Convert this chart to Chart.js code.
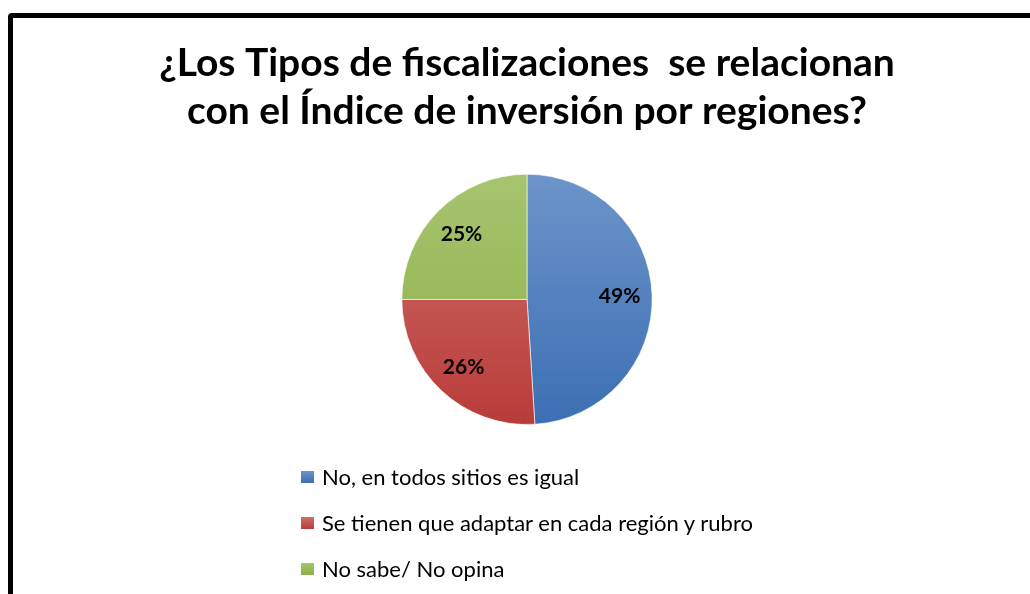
<!DOCTYPE html>
<html>
<head>
<meta charset="utf-8">
<script src="https://cdn.jsdelivr.net/npm/chart.js@4/dist/chart.umd.min.js"></script>
<style>
  html, body { margin: 0; padding: 0; background: #fff; overflow: hidden; }
  #wrap { position: relative; width: 1030px; height: 594px; overflow: hidden; }
  #frame { position: absolute; left: 8px; top: 13px; width: 1100px; height: 700px;
           border: 5px solid #000; border-radius: 4px; box-sizing: border-box; }
  #pie { position: absolute; left: 0; top: 0; }
  #legend { position: absolute; left: 301px; top: 465px; font-family: Lato, sans-serif;
            font-size: 22px; line-height: 24px; color: #000; }
  #legend div { height: 46px; display: flex; align-items: flex-start; }
  #legend span.box { display: inline-block; width: 13px; height: 12px; margin-top: 6px; margin-right: 8px; }
</style>
</head>
<body>
<div id="wrap">
  <div id="frame"></div>
  <canvas id="pie" width="1030" height="594"></canvas>
  <div id="legend"></div>
</div>
<script>
// data
const titleLines = ["¿Los Tipos de fiscalizaciones  se relacionan", "con el Índice de inversión por regiones?"];
const categories = ["No, en todos sitios es igual", "Se tienen que adaptar en cada región y rubro", "No sabe/ No opina"];
const percents = [49, 26, 25];

// colours (top of gradient, bottom of gradient)
const topColors = ["#6d94ca", "#cf6e6b", "#a7c46f"];
const bottomColors = ["#3b6fb3", "#b83c39", "#8caf46"];

function sliceFill(ctx) {
    const area = ctx.chart.chartArea;
    if (!area) return topColors[ctx.dataIndex];
    let g = ctx.chart.ctx.createLinearGradient(0, area.top, 0, area.bottom);
    g.addColorStop(0, topColors[ctx.dataIndex]);
    g.addColorStop(1, bottomColors[ctx.dataIndex]);
    return g;
}

//percent labels inside the slices
const pctLabels = {
    id: "pctLabels",
    afterDatasetsDraw(chart) {
        const c = chart.ctx;
        const arcs = chart.getDatasetMeta(0).data;
        c.save();
        c.font = "bold 21px Lato, sans-serif";
        c.fillStyle = "#000";
        c.textAlign = "center";
        c.textBaseline = "middle";
        arcs.forEach((arc, i) => {
            const p = arc.getProps(["x", "y", "startAngle", "endAngle", "outerRadius"], true);
            const mid = (p.startAngle + p.endAngle) / 2;
            const r = p.outerRadius * 0.74;
            c.fillText(percents[i] + "%", p.x + Math.cos(mid) * r, p.y + Math.sin(mid) * r);
        });
        c.restore();
    }
};

new Chart(document.getElementById("pie"), {
    type: "pie",
    data: {
        labels: categories,
        datasets: [{
            data: percents,
            backgroundColor: sliceFill,
            borderColor: "rgba(255,255,255,0.6)",
            borderWidth: 1
        }]
    },
    options: {
        responsive: false,
        animation: false,
        layout: { padding: { top: 18, left: 37, right: 13, bottom: 169 } },
        plugins: {
            legend: { display: false },
            tooltip: { enabled: false },
            title: {
                display: true,
                text: titleLines,
                color: "#000",
                font: { family: "Lato, sans-serif", size: 39, weight: "bold", lineHeight: 1.24 },
                padding: { top: 21, bottom: 38 }
            }
        }
    },
    plugins: [pctLabels]
});

// legend list
const legend = document.getElementById("legend");
categories.forEach((name, i) => {
    let row = document.createElement("div");
    let box = document.createElement("span");
    box.className = "box";
    box.style.background = "linear-gradient(" + topColors[i] + "," + bottomColors[i] + ")";
    row.appendChild(box);
    row.appendChild(document.createTextNode(name));
    legend.appendChild(row);
});
</script>
</body>
</html>
